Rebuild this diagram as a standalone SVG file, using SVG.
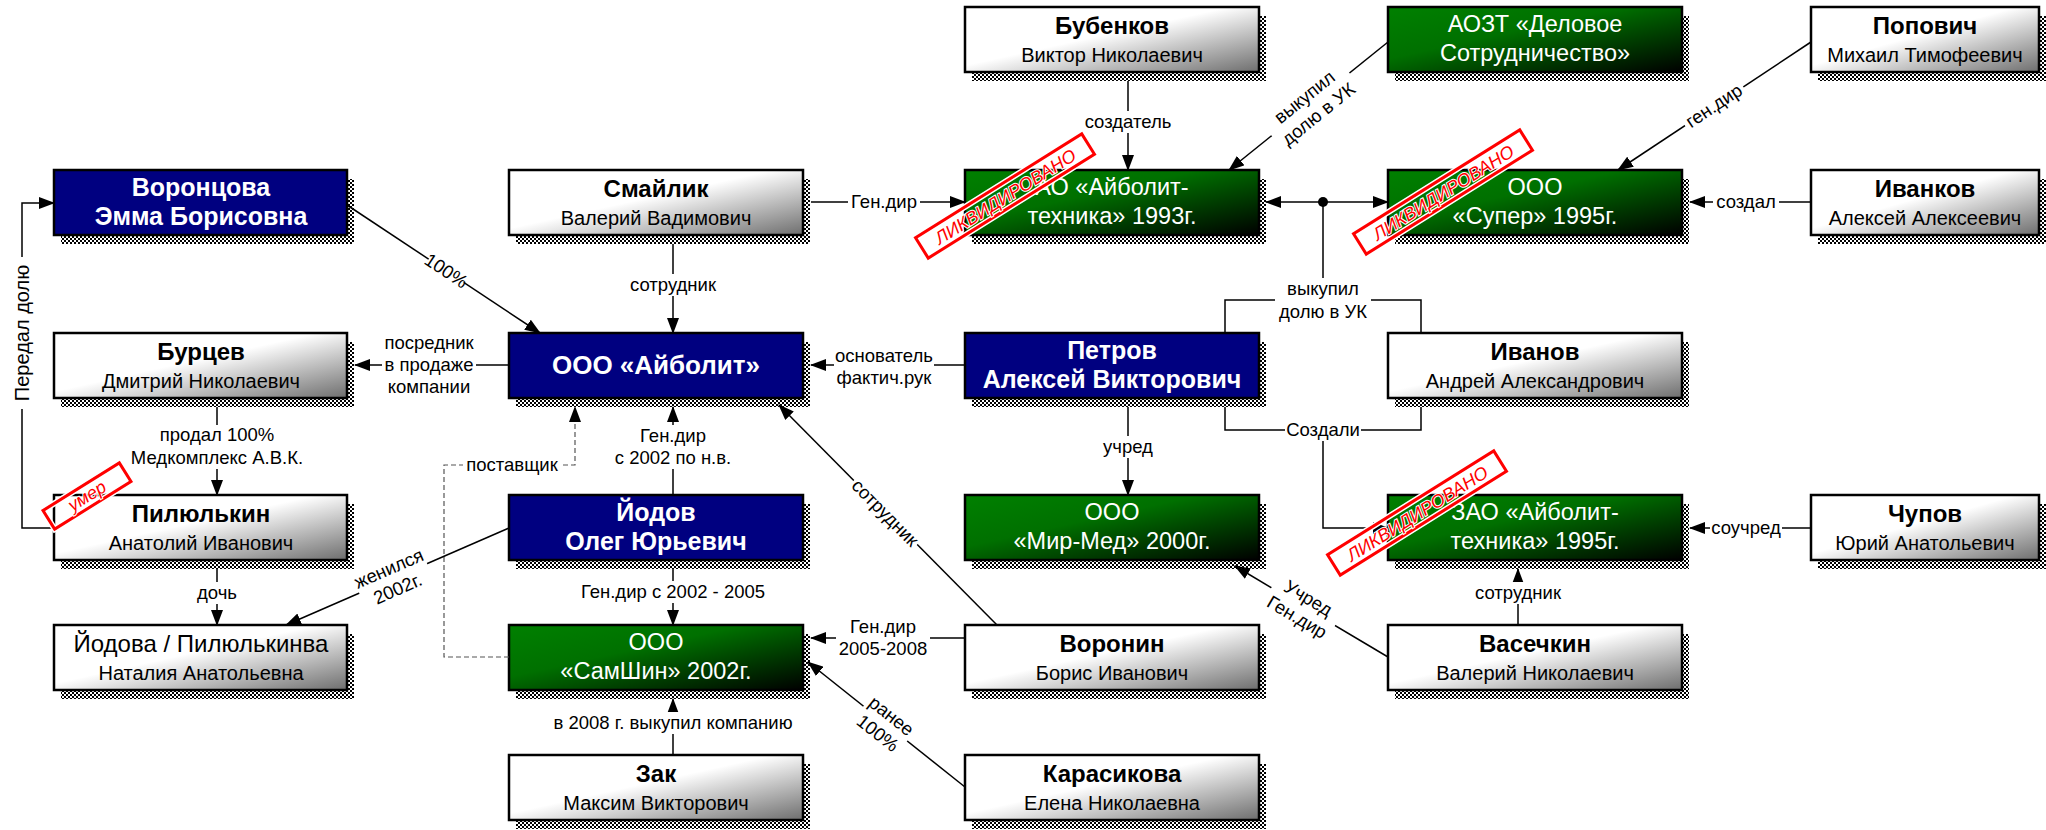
<svg xmlns="http://www.w3.org/2000/svg" width="2046" height="830" viewBox="0 0 2046 830">
<defs>
<pattern id="chk" width="4" height="4" patternUnits="userSpaceOnUse"><rect width="4" height="4" fill="#fff"/><rect width="2" height="2" fill="#000"/><rect x="2" y="2" width="2" height="2" fill="#000"/></pattern>
<linearGradient id="gw" x1="0" y1="0" x2="1" y2="1"><stop offset="0" stop-color="#fff"/><stop offset="0.45" stop-color="#fff"/><stop offset="1" stop-color="#6e6e6e"/></linearGradient>
<linearGradient id="gg" x1="0" y1="0" x2="1" y2="1"><stop offset="0" stop-color="#008000"/><stop offset="0.4" stop-color="#007000"/><stop offset="1" stop-color="#000000"/></linearGradient>
<marker id="ah" markerWidth="16" markerHeight="12" viewBox="0 0 16 12" refX="15" refY="6" orient="auto" markerUnits="userSpaceOnUse"><path d="M0,0 L16,6 L0,12 z" fill="#000"/></marker>
<marker id="ahs" markerWidth="16" markerHeight="12" viewBox="0 0 16 12" refX="15" refY="6" orient="auto-start-reverse" markerUnits="userSpaceOnUse"><path d="M0,0 L16,6 L0,12 z" fill="#000"/></marker>
</defs>
<style>
text{font-family:'Liberation Sans',Arial,sans-serif;text-anchor:middle}
.sh{fill:url(#chk)}
.box{stroke:#000;stroke-width:2.5}
.w{fill:url(#gw)}
.g{fill:url(#gg)}
.b{fill:#000080}
.nm{font-size:24px;font-weight:bold;fill:#000}
.nr{font-size:24px;fill:#000}
.sub{font-size:20px;fill:#000}
.gt{font-size:23.5px;fill:#fff}
.bt{font-size:25px;font-weight:bold;fill:#fff}
.bt1{font-size:26px;font-weight:bold;fill:#fff}
.ln{stroke:#000;stroke-width:1.5;fill:none}
.dash{stroke:#555;stroke-width:1.2;fill:none;stroke-dasharray:5,3}
.lb{fill:#fff}
.lt{font-size:18.5px;fill:#000}
.lv{font-size:20px;fill:#000}
.st{fill:none;stroke:#f00;stroke-width:3}
.stw{fill:none;stroke:#fff;stroke-width:6}
.stt{font-size:18px;fill:#f00;stroke:#fff;stroke-width:2;paint-order:stroke;font-style:italic}
</style>
<rect width="2046" height="830" fill="#fff"/>

<g id="nodes">
<g id="n-bubenkov"><rect class="sh" x="972" y="16" width="294" height="65"/><rect class="box w" x="965" y="7" width="294" height="65"/><text class="nm" x="1112" y="34">Бубенков</text><text class="sub" x="1112" y="62">Виктор Николаевич</text></g>
<g id="n-aozt"><rect class="sh" x="1395" y="16" width="294" height="65"/><rect class="box g" x="1388" y="7" width="294" height="65"/><text class="gt" x="1535" y="32">АОЗТ «Деловое</text><text class="gt" x="1535" y="61">Сотрудничество»</text></g>
<g id="n-popovich"><rect class="sh" x="1818" y="16" width="228" height="65"/><rect class="box w" x="1811" y="7" width="228" height="65"/><text class="nm" x="1925" y="34">Попович</text><text class="sub" x="1925" y="62">Михаил Тимофеевич</text></g>

<g id="n-vorontsova"><rect class="sh" x="61" y="179" width="293" height="65"/><rect class="box b" x="54" y="170" width="293" height="65"/><text class="bt" x="201" y="196">Воронцова</text><text class="bt" x="201" y="225">Эмма Борисовна</text></g>
<g id="n-smailik"><rect class="sh" x="516" y="179" width="294" height="65"/><rect class="box w" x="509" y="170" width="294" height="65"/><text class="nm" x="656" y="197">Смайлик</text><text class="sub" x="656" y="225">Валерий Вадимович</text></g>
<g id="n-ao1993"><rect class="sh" x="972" y="179" width="294" height="65"/><rect class="box g" x="965" y="170" width="294" height="65"/><text class="gt" x="1112" y="195">АО «Айболит-</text><text class="gt" x="1112" y="224">техника» 1993г.</text></g>
<g id="n-super"><rect class="sh" x="1395" y="179" width="294" height="65"/><rect class="box g" x="1388" y="170" width="294" height="65"/><text class="gt" x="1535" y="195">ООО</text><text class="gt" x="1535" y="224">«Супер» 1995г.</text></g>
<g id="n-ivankov"><rect class="sh" x="1818" y="179" width="228" height="65"/><rect class="box w" x="1811" y="170" width="228" height="65"/><text class="nm" x="1925" y="197">Иванков</text><text class="sub" x="1925" y="225">Алексей Алексеевич</text></g>

<g id="n-burtsev"><rect class="sh" x="61" y="342" width="293" height="65"/><rect class="box w" x="54" y="333" width="293" height="65"/><text class="nm" x="201" y="360">Бурцев</text><text class="sub" x="201" y="388">Дмитрий Николаевич</text></g>
<g id="n-aibolit"><rect class="sh" x="516" y="342" width="294" height="65"/><rect class="box b" x="509" y="333" width="294" height="65"/><text class="bt1" x="656" y="374">ООО «Айболит»</text></g>
<g id="n-petrov"><rect class="sh" x="972" y="342" width="294" height="65"/><rect class="box b" x="965" y="333" width="294" height="65"/><text class="bt" x="1112" y="359">Петров</text><text class="bt" x="1112" y="388">Алексей Викторович</text></g>
<g id="n-ivanov"><rect class="sh" x="1395" y="342" width="294" height="65"/><rect class="box w" x="1388" y="333" width="294" height="65"/><text class="nm" x="1535" y="360">Иванов</text><text class="sub" x="1535" y="388">Андрей Александрович</text></g>

<g id="n-pilyulkin"><rect class="sh" x="61" y="504" width="293" height="65"/><rect class="box w" x="54" y="495" width="293" height="65"/><text class="nm" x="201" y="522">Пилюлькин</text><text class="sub" x="201" y="550">Анатолий Иванович</text></g>
<g id="n-iodov"><rect class="sh" x="516" y="504" width="294" height="65"/><rect class="box b" x="509" y="495" width="294" height="65"/><text class="bt" x="656" y="521">Йодов</text><text class="bt" x="656" y="550">Олег Юрьевич</text></g>
<g id="n-mirmed"><rect class="sh" x="972" y="504" width="294" height="65"/><rect class="box g" x="965" y="495" width="294" height="65"/><text class="gt" x="1112" y="520">ООО</text><text class="gt" x="1112" y="549">«Мир-Мед» 2000г.</text></g>
<g id="n-zao1995"><rect class="sh" x="1395" y="504" width="294" height="65"/><rect class="box g" x="1388" y="495" width="294" height="65"/><text class="gt" x="1535" y="520">ЗАО «Айболит-</text><text class="gt" x="1535" y="549">техника»  1995г.</text></g>
<g id="n-chupov"><rect class="sh" x="1818" y="504" width="228" height="65"/><rect class="box w" x="1811" y="495" width="228" height="65"/><text class="nm" x="1925" y="522">Чупов</text><text class="sub" x="1925" y="550">Юрий Анатольевич</text></g>

<g id="n-iodova"><rect class="sh" x="61" y="634" width="293" height="65"/><rect class="box w" x="54" y="625" width="293" height="65"/><text class="nr" x="201" y="652">Йодова / Пилюлькинва</text><text class="sub" x="201" y="680">Наталия Анатольевна</text></g>
<g id="n-samshin"><rect class="sh" x="516" y="634" width="294" height="65"/><rect class="box g" x="509" y="625" width="294" height="65"/><text class="gt" x="656" y="650">ООО</text><text class="gt" x="656" y="679">«СамШин» 2002г.</text></g>
<g id="n-voronin"><rect class="sh" x="972" y="634" width="294" height="65"/><rect class="box w" x="965" y="625" width="294" height="65"/><text class="nm" x="1112" y="652">Воронин</text><text class="sub" x="1112" y="680">Борис Иванович</text></g>
<g id="n-vasechkin"><rect class="sh" x="1395" y="634" width="294" height="65"/><rect class="box w" x="1388" y="625" width="294" height="65"/><text class="nm" x="1535" y="652">Васечкин</text><text class="sub" x="1535" y="680">Валерий Николаевич</text></g>

<g id="n-zak"><rect class="sh" x="516" y="764" width="294" height="65"/><rect class="box w" x="509" y="755" width="294" height="65"/><text class="nm" x="656" y="782">Зак</text><text class="sub" x="656" y="810">Максим Викторович</text></g>
<g id="n-karasikova"><rect class="sh" x="972" y="764" width="294" height="65"/><rect class="box w" x="965" y="755" width="294" height="65"/><text class="nm" x="1112" y="782">Карасикова</text><text class="sub" x="1112" y="810">Елена Николаевна</text></g>
</g>

<g id="connectors">
<path class="ln" d="M1128,81 V170" marker-end="url(#ah)"/>
<path class="ln" d="M1388,42 L1229,170" marker-end="url(#ah)"/>
<path class="ln" d="M1811,42 L1618,170" marker-end="url(#ah)"/>
<path class="ln" d="M811,202 H965" marker-end="url(#ah)"/>
<path class="ln" d="M1266,202 H1388" marker-start="url(#ahs)" marker-end="url(#ah)"/>
<path class="ln" d="M1323,202 V300 M1225,333 V300 H1421 V333"/>
<circle cx="1323" cy="202" r="5" fill="#000"/>
<path class="ln" d="M1811,202 H1690" marker-end="url(#ah)"/>
<path class="ln" d="M347,205 L540,333" marker-end="url(#ah)"/>
<path class="ln" d="M509,365 H355" marker-end="url(#ah)"/>
<path class="ln" d="M965,365 H811" marker-end="url(#ah)"/>
<path class="ln" d="M673,244 V333" marker-end="url(#ah)"/>
<path class="ln" d="M1128,407 V495" marker-end="url(#ah)"/>
<path class="ln" d="M1225,407 V430 H1421 V407"/>
<path class="ln" d="M1323,430 V528 H1388" marker-end="url(#ah)"/>
<path class="ln" d="M1811,528 H1690" marker-end="url(#ah)"/>
<path class="ln" d="M1518,625 V569" marker-end="url(#ah)"/>
<path class="ln" d="M1388,657 L1235,566" marker-end="url(#ah)"/>
<path class="ln" d="M997,625 L779,405" marker-end="url(#ah)"/>
<path class="ln" d="M965,638 H811" marker-end="url(#ah)"/>
<path class="ln" d="M965,787 L808,662" marker-end="url(#ah)"/>
<path class="ln" d="M673,495 V407" marker-end="url(#ah)"/>
<path class="ln" d="M673,569 V625" marker-end="url(#ah)"/>
<path class="ln" d="M673,755 V699" marker-end="url(#ah)"/>
<path class="dash" d="M509,657 H444 V465 H575 V407" marker-end="url(#ah)"/>
<path class="ln" d="M509,528 L286,625" marker-end="url(#ah)"/>
<path class="ln" d="M217,407 V495" marker-end="url(#ah)"/>
<path class="ln" d="M217,569 V625" marker-end="url(#ah)"/>
<path class="ln" d="M54,528 H22 V203 H54" marker-end="url(#ah)"/>

<g id="labels">
<rect class="lb" x="1084" y="111" width="88" height="22"/><text class="lt" x="1128" y="128">создатель</text>
<g transform="translate(1311,105) rotate(-38.8)"><rect class="lb" x="-50" y="-22" width="100" height="44"/><text class="lt" x="0" y="-4">выкупил</text><text class="lt" x="0" y="18">долю в УК</text></g>
<g transform="translate(1714,106) rotate(-33.6)"><rect class="lb" x="-35" y="-11" width="70" height="22"/><text class="lt" x="0" y="6">ген.дир</text></g>
<rect class="lb" x="848" y="191" width="72" height="22"/><text class="lt" x="884" y="208">Ген.дир</text>
<rect class="lb" x="1275" y="278" width="96" height="46"/><text class="lt" x="1323" y="295">выкупил</text><text class="lt" x="1323" y="318">долю в УК</text>
<rect class="lb" x="1713" y="191" width="66" height="22"/><text class="lt" x="1746" y="208">создал</text>
<g transform="translate(446,271) rotate(33.6)"><rect class="lb" x="-21" y="-11" width="42" height="22"/><text class="lt" x="0" y="6">100%</text></g>
<rect class="lb" x="382" y="334" width="94" height="66"/><text class="lt" x="429" y="349">посредник</text><text class="lt" x="429" y="371">в продаже</text><text class="lt" x="429" y="393">компании</text>
<rect class="lb" x="834" y="345" width="100" height="44"/><text class="lt" x="884" y="362">основатель</text><text class="lt" x="884" y="384">фактич.рук</text>
<rect class="lb" x="628" y="274" width="90" height="22"/><text class="lt" x="673" y="291">сотрудник</text>
<rect class="lb" x="1099" y="436" width="58" height="22"/><text class="lt" x="1128" y="453">учред</text>
<rect class="lb" x="1285" y="419" width="76" height="22"/><text class="lt" x="1323" y="436">Создали</text>
<rect class="lb" x="1710" y="517" width="72" height="22"/><text class="lt" x="1746" y="534">соучред</text>
<rect class="lb" x="1473" y="582" width="90" height="22"/><text class="lt" x="1518" y="599">сотрудник</text>
<g transform="translate(1303,607) rotate(30.7)"><rect class="lb" x="-37" y="-22" width="74" height="44"/><text class="lt" x="0" y="-4">Учред</text><text class="lt" x="0" y="18">Ген.дир</text></g>
<g transform="translate(885,513) rotate(45.2)"><rect class="lb" x="-45" y="-11" width="90" height="22"/><text class="lt" x="0" y="6">сотрудник</text></g>
<rect class="lb" x="836" y="616" width="94" height="44"/><text class="lt" x="883" y="633">Ген.дир</text><text class="lt" x="883" y="655">2005-2008</text>
<g transform="translate(885,724) rotate(38.3)"><rect class="lb" x="-28" y="-22" width="56" height="44"/><text class="lt" x="0" y="-4">ранее</text><text class="lt" x="0" y="18">100%</text></g>
<rect class="lb" x="612" y="425" width="122" height="44"/><text class="lt" x="673" y="442">Ген.дир</text><text class="lt" x="673" y="464">с 2002 по н.в.</text>
<rect class="lb" x="578" y="581" width="190" height="22"/><text class="lt" x="673" y="598">Ген.дир с 2002 - 2005</text>
<rect class="lb" x="543" y="712" width="260" height="22"/><text class="lt" x="673" y="729">в 2008 г. выкупил компанию</text>
<rect class="lb" x="463" y="454" width="98" height="22"/><text class="lt" x="512" y="471">поставщик</text>
<g transform="translate(393,578) rotate(-23.5)"><rect class="lb" x="-37" y="-22" width="74" height="44"/><text class="lt" x="0" y="-4">женился</text><text class="lt" x="0" y="18">2002г.</text></g>
<rect class="lb" x="130" y="425" width="174" height="44"/><text class="lt" x="217" y="441">продал 100%</text><text class="lt" x="217" y="464">Медкомплекс А.В.К.</text>
<rect class="lb" x="197" y="582" width="40" height="22"/><text class="lt" x="217" y="599">дочь</text>
<g transform="translate(22,333) rotate(-90)"><rect class="lb" x="-76" y="-11" width="152" height="22"/><text class="lv" x="0" y="7">Передал долю</text></g>
</g>
</g>

<g id="stamps">
<g transform="translate(1005,196) rotate(-32)"><rect class="stw" x="-98" y="-12" width="196" height="24"/><rect class="st" x="-98" y="-12" width="196" height="24"/><text class="stt" x="0" y="7">ЛИКВИДИРОВАНО</text></g>
<g transform="translate(1443,192) rotate(-32)"><rect class="stw" x="-98" y="-12" width="196" height="24"/><rect class="st" x="-98" y="-12" width="196" height="24"/><text class="stt" x="0" y="7">ЛИКВИДИРОВАНО</text></g>
<g transform="translate(1417,513) rotate(-32)"><rect class="stw" x="-98" y="-12" width="196" height="24"/><rect class="st" x="-98" y="-12" width="196" height="24"/><text class="stt" x="0" y="7">ЛИКВИДИРОВАНО</text></g>
<g transform="translate(87,496) rotate(-32)"><rect class="stw" x="-45" y="-11" width="90" height="22"/><rect class="st" x="-45" y="-11" width="90" height="22"/><text class="stt" x="0" y="6">умер</text></g>
</g>
</svg>
